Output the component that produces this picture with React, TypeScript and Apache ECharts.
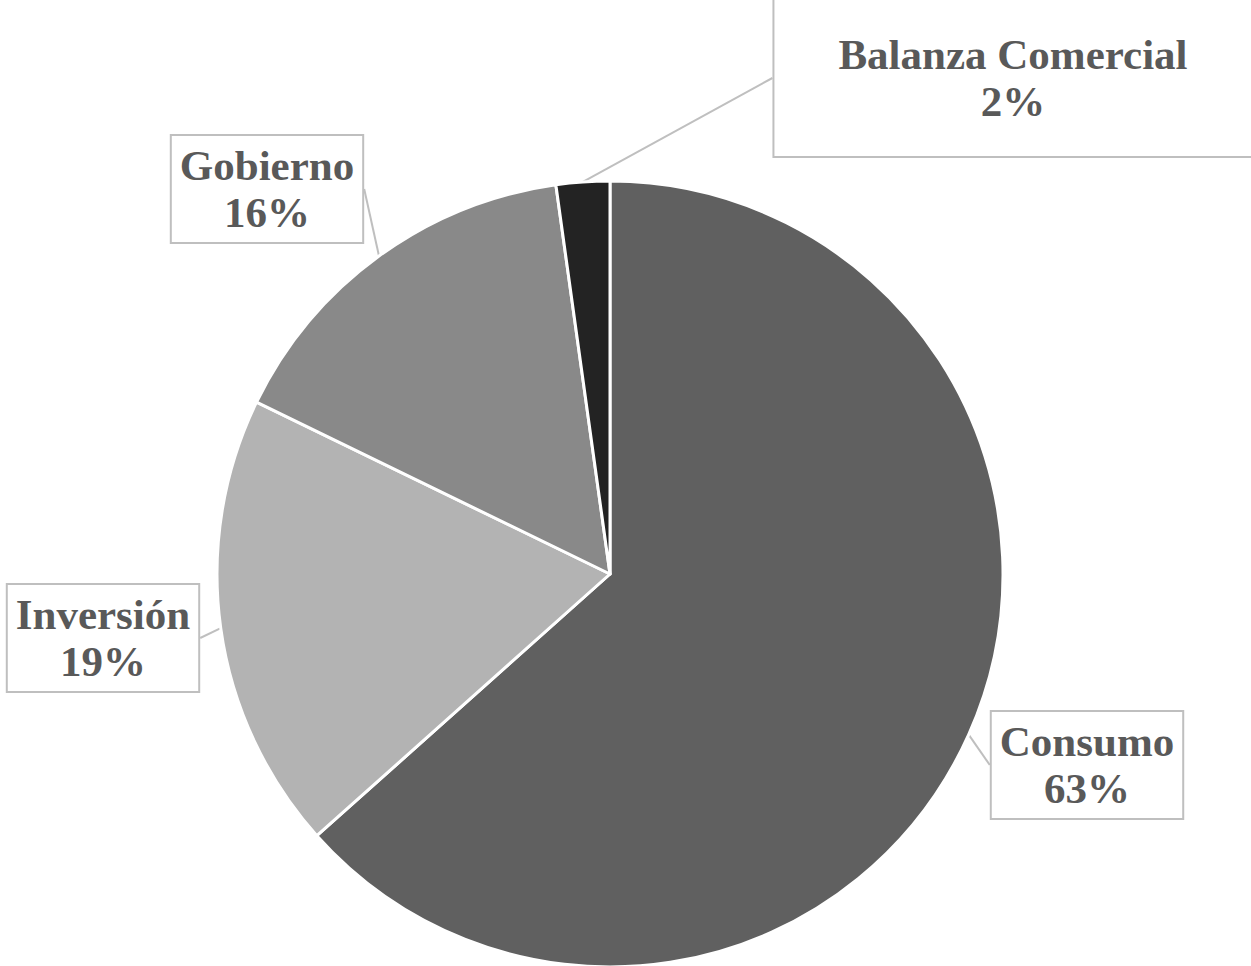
import React, { useEffect, useRef } from "react";
import * as echarts from "echarts";

const categories = ["Consumo", "Inversión", "Gobierno", "Balanza Comercial"];
const values = [63.4, 18.8, 15.6, 2.2];
const colors = ["#606060", "#b3b3b3", "#898989", "#232323"];
// label box centres (chart pixel coords) and paddings
const labelCenters = [
  [1087, 765],
  [103, 638],
  [267, 189],
  [1013, 78],
];
const labelPaddings = [
  [6, 8],
  [6, 8],
  [6, 8],
  [31, 64],
];

export default function App() {
  const ref = useRef<HTMLDivElement>(null);
  useEffect(() => {
    if (!ref.current) return;
    const chart = echarts.init(ref.current, undefined, { renderer: "svg" });
    chart.setOption({
      animation: false,
      backgroundColor: "#ffffff",
      series: [
        {
          type: "pie",
          center: [610, 574],
          radius: [0, 393],
          startAngle: 90,
          clockwise: true,
          avoidLabelOverlap: false,
          itemStyle: { borderColor: "#ffffff", borderWidth: 3 },
          label: {
            show: true,
            formatter: (p: any) => `${p.name}\n${Math.round(p.percent)}%`,
            fontFamily: "Liberation Serif",
            fontWeight: "bold",
            fontSize: 43,
            lineHeight: 47,
            color: "#595959",
            backgroundColor: "#ffffff",
            borderColor: "#bfbfbf",
            borderWidth: 2,
            align: "center",
          },
          labelLine: {
            show: true,
            length: 0,
            length2: 0,
            smooth: false,
            lineStyle: { color: "#bfbfbf", width: 2 },
          },
          labelLayout: (params: any) => {
            const c = labelCenters[params.dataIndex];
            return {
              x: c[0],
              y: c[1],
              align: "center",
              verticalAlign: "middle",
            };
          },
          data: categories.map((name, i) => ({
            name,
            value: values[i],
            itemStyle: { color: colors[i] },
            label: { padding: labelPaddings[i] },
          })),
        },
      ],
    });
    return () => chart.dispose();
  }, []);
  return (
    <div
      ref={ref}
      style={{ position: "fixed", left: 0, top: 0, width: 1251, height: 966 }}
    />
  );
}
